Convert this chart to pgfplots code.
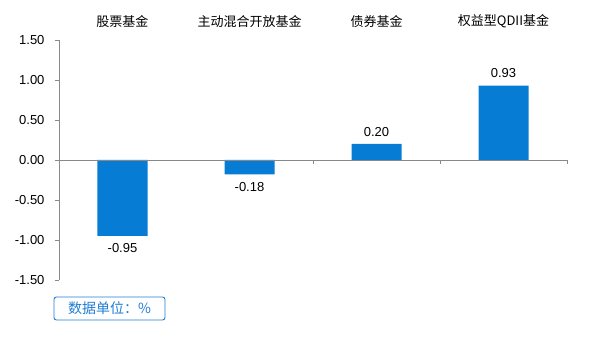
\documentclass[border=0pt]{standalone}
\usepackage{pgfplots}
\pgfplotsset{compat=1.18}
\usepackage{fontspec}
\setmainfont{Liberation Sans}
\newfontfamily\cjk{Noto Sans CJK SC}
\definecolor{barblue}{RGB}{7,124,212}
\definecolor{axgray}{RGB}{137,137,137}
\definecolor{boxblue}{RGB}{30,125,212}
\begin{document}
\begin{tikzpicture}[x=1pt,y=1pt]
\path[use as bounding box] (-59,-57) rectangle (543,280);
\begin{axis}[
  scale only axis, width=508pt, height=240pt,
  xmin=-0.5, xmax=3.5, ymin=-1.5, ymax=1.5,
  axis x line=top, axis y line=left,
  axis line style={-, draw=axgray},
  x axis line style={draw=none},
  xtick={0,1,2,3},
  xticklabels={股票基金,主动混合开放基金,债券基金,权益型QDII基金},
  xticklabel style={font=\cjk\fontsize{13}{15}\selectfont, yshift=5pt},
  major x tick style={draw=none},
  ytick={-1.5,-1,-0.5,0,0.5,1,1.5},
  /pgf/number format/fixed, /pgf/number format/zerofill, /pgf/number format/precision=2, /pgf/number format/assume math mode=true,
  yticklabel style={font=\fontsize{13}{15}\selectfont, xshift=-7pt},
  tick align=outside, major tick length=4pt,
  y tick style={draw=axgray},
  ybar, bar width=50pt, bar shift=0pt,
  nodes near coords,
  nodes near coords align={vertical},
  every node near coord/.append style={font=\fontsize{13}{15}\selectfont, text=black, inner sep=7.5pt},
  clip=false,
]
\addplot[fill=barblue, draw=none] coordinates {(0,-0.95) (1,-0.18) (2,0.20) (3,0.93)};
\draw[axgray] (axis cs:-0.5,0) -- (axis cs:3.5,0);
\draw[axgray] (axis cs:1.5,0) -- ([yshift=-4pt]axis cs:1.5,0);
\draw[axgray] (axis cs:2.5,0) -- ([yshift=-4pt]axis cs:2.5,0);
\draw[axgray] (axis cs:3.5,0) -- ([yshift=-4pt]axis cs:3.5,0);
\end{axis}
\node[draw=boxblue, line width=0.9pt, rounded corners=2.5pt, minimum width=111pt, minimum height=23pt, inner sep=0pt, text=boxblue, font=\cjk\fontsize{14}{16}\selectfont] at (50.5,-28.5) {数据单位：\%};
\end{tikzpicture}
\end{document}
